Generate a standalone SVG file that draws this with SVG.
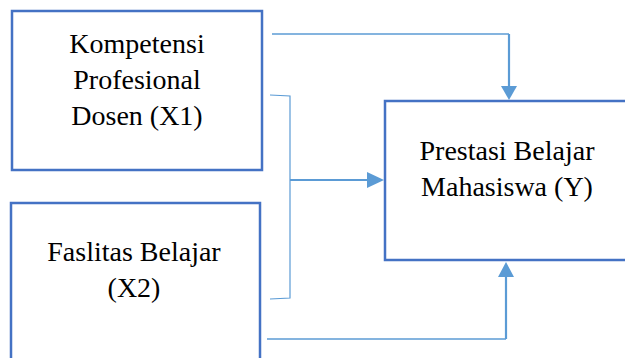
<svg xmlns="http://www.w3.org/2000/svg" width="625" height="358" viewBox="0 0 625 358">
<style>
.box{fill:#fff;stroke:#4472C4;stroke-width:2.5}
.t{font-family:"Liberation Serif","Times New Roman",serif;font-size:28px;fill:#000;text-anchor:middle}
.c{fill:none;stroke:#5B9BD5;stroke-width:1.5}
.thin{fill:none;stroke:#5B9BD5;stroke-width:1.2}
.thick{fill:none;stroke:#5B9BD5;stroke-width:2.2}
.ah{fill:#5B9BD5}
</style>
<rect width="625" height="358" fill="#fff"/>
<g id="x1">
<rect class="box" x="12" y="11" width="250" height="159"/>
<text class="t" x="137" y="53">Kompetensi</text>
<text class="t" x="137" y="89">Profesional</text>
<text class="t" x="137" y="125">Dosen (X1)</text>
</g>
<g id="x2">
<rect class="box" x="11" y="203" width="249" height="170"/>
<text class="t" x="134" y="261">Faslitas Belajar</text>
<text class="t" x="134" y="297">(X2)</text>
</g>
<g id="y">
<rect class="box" x="385" y="101" width="260" height="159"/>
<text class="t" x="507" y="160">Prestasi Belajar</text>
<text class="t" x="507" y="196">Mahasiswa (Y)</text>
</g>
<g id="connectors">
<path class="c" d="M272 34 H509"/>
<path class="thick" d="M509 34 V87"/>
<polygon class="ah" points="501,86 517,86 509,100"/>
<path class="thin" d="M270 95 L290 96 V298 L270 299"/>
<path class="thick" d="M290 180 H368"/>
<polygon class="ah" points="367,172 367,188 384,180"/>
<path class="c" d="M267 339 H506"/>
<path class="thick" d="M506 339 V276"/>
<polygon class="ah" points="498,277 514,277 506,262"/>
</g>
</svg>
